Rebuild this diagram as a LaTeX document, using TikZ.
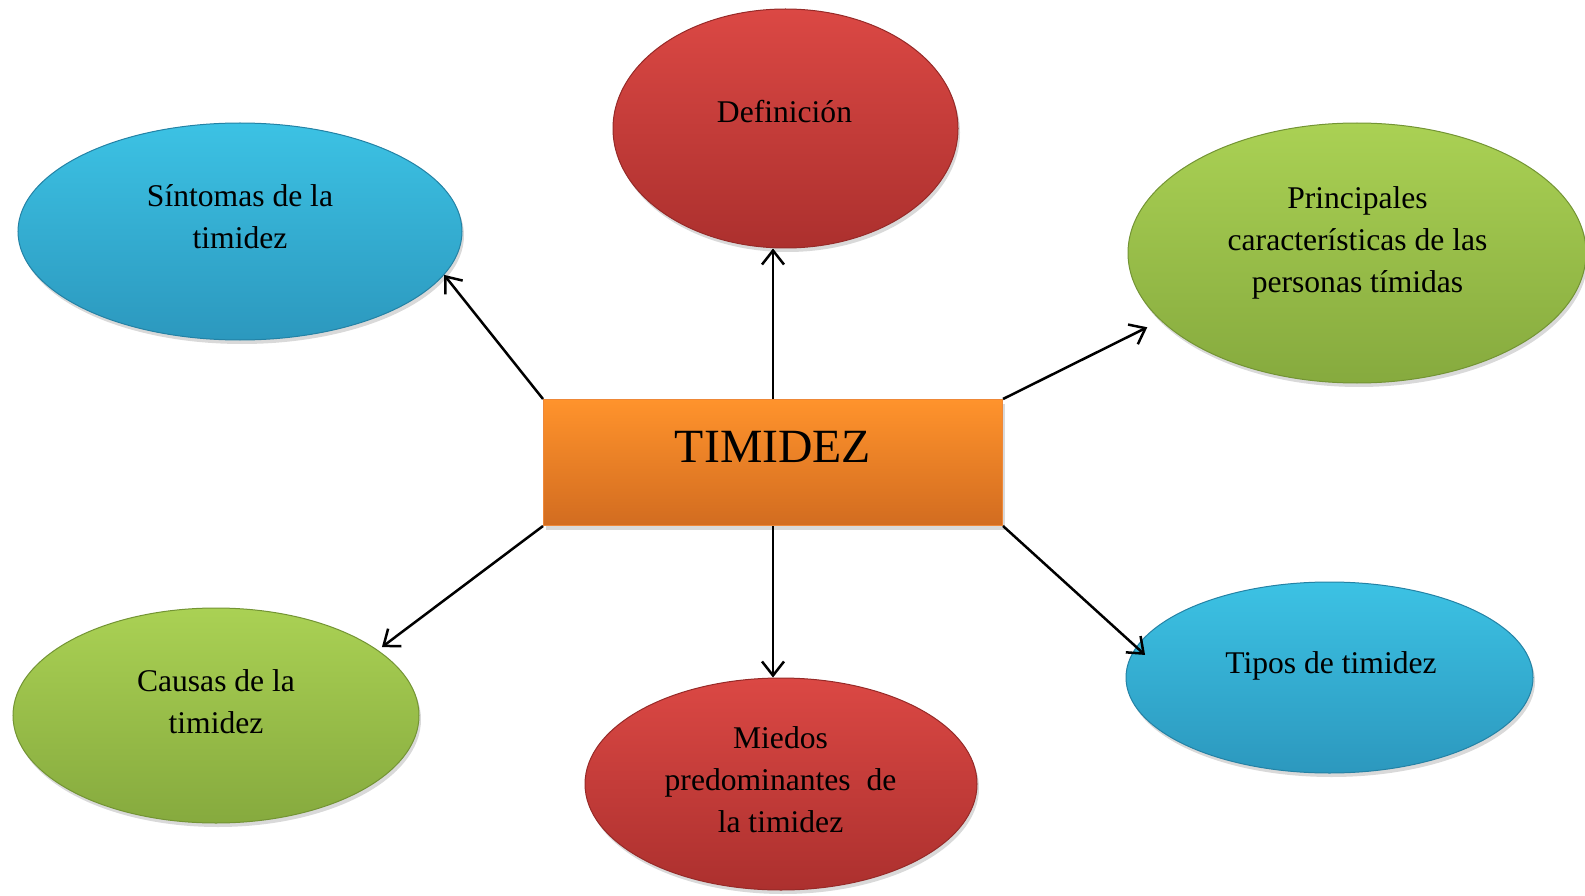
\documentclass[tikz,border=0pt]{standalone}
\usepackage{fontspec}
\setmainfont{Liberation Serif}
\usetikzlibrary{shapes.geometric,shadows,arrows.meta}

\definecolor{rojoA}{RGB}{219,72,68}
\definecolor{rojoB}{RGB}{172,48,46}
\definecolor{rojoC}{RGB}{150,42,40}
\definecolor{azulA}{RGB}{60,194,228}
\definecolor{azulB}{RGB}{44,152,190}
\definecolor{azulC}{RGB}{36,130,165}
\definecolor{verdeA}{RGB}{170,209,84}
\definecolor{verdeB}{RGB}{134,170,62}
\definecolor{verdeC}{RGB}{115,148,52}
\definecolor{naranjaA}{RGB}{255,147,44}
\definecolor{naranjaB}{RGB}{210,108,32}
\definecolor{naranjaC}{RGB}{238,136,56}

\begin{document}
\begin{tikzpicture}[x=1pt,y=-1pt,
    globo/.style={ellipse, inner sep=0pt, line width=1pt,
      drop shadow={shadow xshift=2pt, shadow yshift=-4pt, opacity=.3}},
    rojo/.style={globo, top color=rojoA, bottom color=rojoB, draw=rojoC},
    azul/.style={globo, top color=azulA, bottom color=azulB, draw=azulC},
    verde/.style={globo, top color=verdeA, bottom color=verdeB, draw=verdeC},
    texto/.style={align=center, inner sep=0pt, font=\fontsize{31.6}{42}\selectfont},
    flecha/.style={-{Straight Barb[length=14pt,width=22pt]}, line width=2.5pt}
    ]
    \useasboundingbox (0,0) rectangle (1585,896);

    % centro
    \node[rectangle, inner sep=0pt, top color=naranjaA, bottom color=naranjaB,
      draw=naranjaC, line width=1pt, minimum width=459pt, minimum height=126pt,
      drop shadow={shadow xshift=2pt, shadow yshift=-4pt, opacity=.3}] (tim) at (773,462.5) {};
    \node[inner sep=0pt, font=\fontsize{47.7}{57}\selectfont] (ttim) at (773,447) {TIMIDEZ};

    % globos
    \node[rojo, minimum width=345pt, minimum height=239pt] (def) at (785.5,128.5) {};
    \node[azul, minimum width=444pt, minimum height=217pt] (sint) at (240,231.5) {};
    \node[verde, minimum width=458pt, minimum height=260pt] (prin) at (1357,253) {};
    \node[verde, minimum width=406pt, minimum height=215pt] (caus) at (216,715.5) {};
    \node[rojo, minimum width=392pt, minimum height=212pt] (mied) at (781,784) {};
    \node[azul, minimum width=407pt, minimum height=191pt] (tipo) at (1329.5,677.5) {};

    \node[texto] (tdef) at (784.5,112) {Definición};
    \node[texto] (tsint) at (240,216.5) {Síntomas de la\\timidez};
    \node[texto] (tprin) at (1357.5,243) {Principales\\características de las\\personas tímidas};
    \node[texto] (tcaus) at (216,701.5) {Causas de la\\timidez};
    \node[texto] (tmied) at (780.5,780) {Miedos\\predominantes~ de\\la timidez};
    \node[texto] (ttipo) at (1331,666) {Tipos de timidez};

    % flechas
    \draw[flecha] (tim.north west) -- (sint.-12.6);
    \draw[flecha] (tim.north) -- (tim.north |- def.south);
    \draw[flecha, shorten >=15pt] (tim.north east) -- (prin.199.5);
    \draw[flecha, shorten >=5pt] (tim.south west) -- (caus.22.1);
    \draw[flecha] (tim.south) -- (tim.south |- mied.north);
    \draw[flecha, shorten >=-12pt] (tim.south east) -- (tipo.171.1);
\end{tikzpicture}
\end{document}
